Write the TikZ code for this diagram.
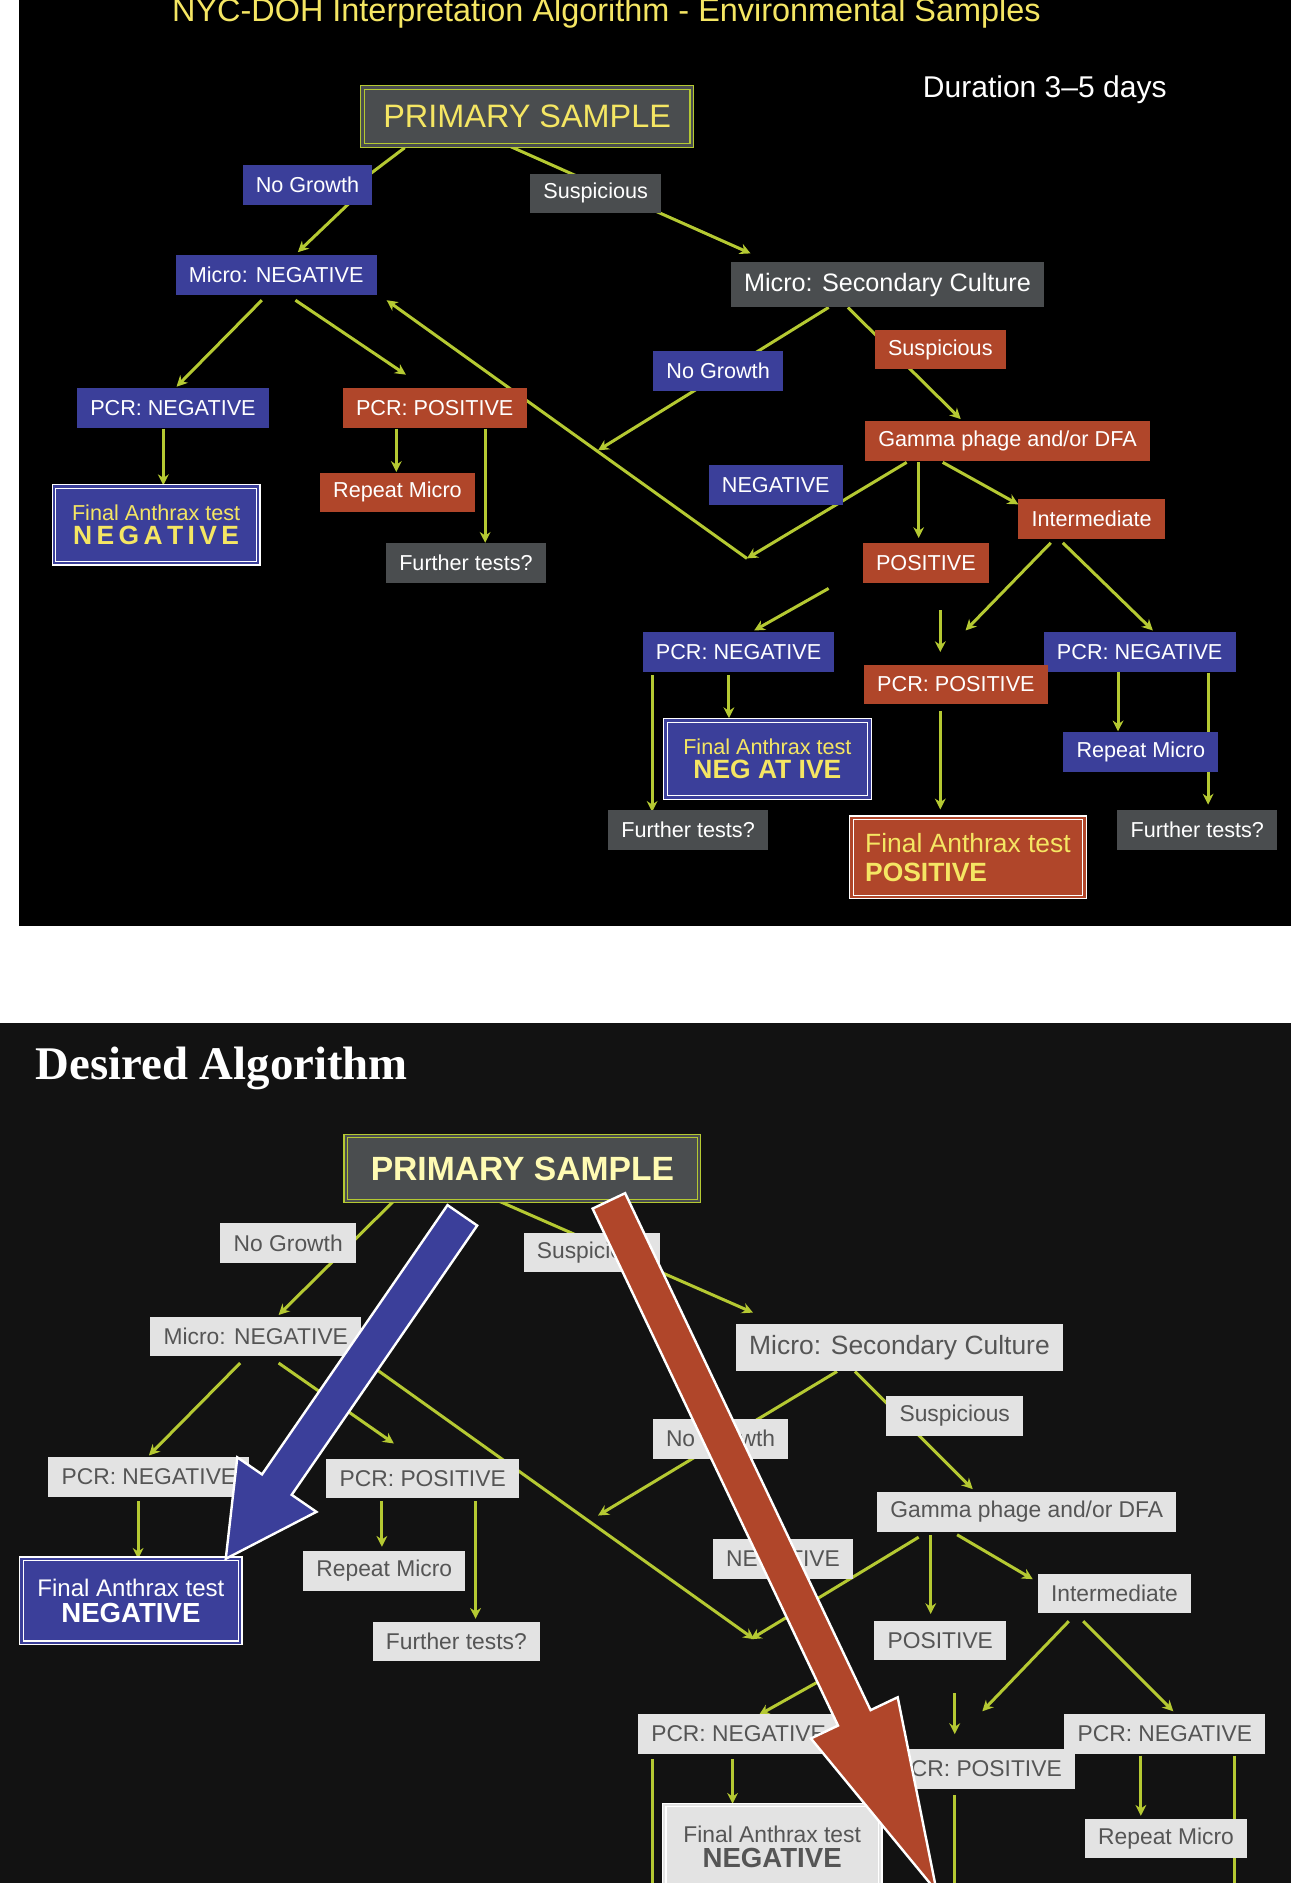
\documentclass[tikz,border=0pt]{standalone}
\usepackage{fontspec}
\setmainfont{Liberation Sans}
\newfontfamily\serifbf{Liberation Serif}
\usetikzlibrary{arrows.meta,calc}
\definecolor{bl}{HTML}{3B3F9A}
\definecolor{orr}{HTML}{B0462A}
\definecolor{gr}{HTML}{4A4D4F}
\definecolor{yl}{HTML}{F5E663}
\definecolor{gn}{HTML}{B5C932}
\definecolor{lg}{HTML}{E3E3E3}
\definecolor{tg}{HTML}{555555}
\begin{document}
\begin{tikzpicture}[x=1pt,y=-1pt,
 lab/.style={inner xsep=11pt,minimum height=33pt,font=\fontsize{18}{21}\selectfont,text=white},
 B/.style={lab,fill=bl}, O/.style={lab,fill=orr}, G/.style={lab,fill=gr},
 L/.style={lab,fill=lg,text=tg,font=\fontsize{19}{22}\selectfont},
 ar/.style={draw=gn,line width=2.5pt,-{Stealth[length=9pt,width=9pt]}},
 ln/.style={draw=gn,line width=2.5pt}]
\useasboundingbox (0,0) rectangle (1075,1568);
\fill[white] (0,0) rectangle (1075,1568);
\fill[black] (16,0) rectangle (1075,771);
\fill[black!93] (0,852) rectangle (1075,1568);
% ---------- TOP ----------
\node[text=yl,font=\fontsize{27}{31}\selectfont] (title) at (505,11) {NYC-DOH Interpretation Algorithm - Environmental Samples};
\node[text=white,font=\fontsize{25}{29}\selectfont] (dur) at (870,75) {Duration 3–5 days};
\draw[ln] (337,123) -- (308,145);
\draw[ar] (290,170) -- (248,210);
\draw[ar] (425,122) -- (625,211);
\draw[ar] (218,250) -- (147,322);
\draw[ar] (246,250) -- (338,312);
\draw[ar] (622,465) -- (322,250);
\draw[ar] (755,385) -- (622,465);
\draw[ar] (690,256) -- (498,375);
\draw[ar] (706,256) -- (800,349);
\draw[ar] (136,357) -- (136,404);
\draw[ar] (330,357) -- (330,393);
\draw[ar] (404,357) -- (404,452);
\draw[ar] (765,385) -- (765,448);
\draw[ar] (785,385) -- (848,420);
\draw[ar] (690,490) -- (628,525);
\draw[ar] (783,508) -- (783,543);
\draw[ar] (875,452) -- (804,525);
\draw[ar] (885,452) -- (960,525);
\draw[ar] (607,562) -- (607,598);
\draw[ar] (543,562) -- (543,676);
\draw[ar] (783,592) -- (783,674);
\draw[ar] (931,558) -- (931,609);
\draw[ar] (1006,560) -- (1006,670);
\node[G,draw=gn,double=gr,double distance=2pt,line width=1pt,text=yl,font=\fontsize{27}{31}\selectfont,minimum width=274pt,minimum height=48pt] (ps) at (439,97) {PRIMARY SAMPLE};
\node[B] (ng1) at (256,154) {No Growth};
\node[G] (su1) at (496,161) {Suspicious};
\node[B] (mn) at (230,229) {Micro: NEGATIVE};
\node[G,font=\fontsize{21}{25}\selectfont,minimum height=37pt] (msc) at (739,237) {Micro: Secondary Culture};
\node[B] (ng2) at (598,309) {No Growth};
\node[O] (su2) at (783,291) {Suspicious};
\node[B] (pn1) at (144,340) {PCR: NEGATIVE};
\node[O] (pp1) at (362,340) {PCR: POSITIVE};
\node[O] (gam) at (839,367) {Gamma phage and/or DFA};
\node[O] (rm1) at (331,410) {Repeat Micro};
\node[B] (neg) at (646,404) {NEGATIVE};
\node[O] (int) at (909,432) {Intermediate};
\node[B,draw=white,double=bl,double distance=2pt,line width=1pt,text=yl,align=center,minimum width=170pt,minimum height=64pt] (fn1) at (130,437) {Final Anthrax test\\[-1pt]{\fontsize{22}{25}\selectfont\bfseries N\,E\,G\,A\,T\,I\,V\,E}};
\node[G] (ft1) at (388,469) {Further tests?};
\node[O] (pos) at (771,469) {POSITIVE};
\node[B] (pn2) at (615,543) {PCR: NEGATIVE};
\node[B] (pn3) at (949,543) {PCR: NEGATIVE};
\node[O] (pp2) at (796,570) {PCR: POSITIVE};
\node[B,draw=white,double=bl,double distance=2pt,line width=1pt,text=yl,align=center,minimum width=170pt,minimum height=64pt] (fn2) at (639,632) {Final Anthrax test\\[-1pt]{\fontsize{22}{25}\selectfont\bfseries NEG AT IVE}};
\node[B] (rm2) at (950,626) {Repeat Micro};
\node[G] (ft2) at (573,691) {Further tests?};
\node[O,draw=white,double=orr,double distance=2pt,line width=1pt,text=yl,align=left,minimum width=194pt,minimum height=66pt,font=\fontsize{22}{25}\selectfont] (fp) at (806,714) {Final Anthrax test\\[-1pt]\bfseries POSITIVE};
\node[G] (ft3) at (997,691) {Further tests?};
% ---------- BOTTOM ----------
\node[text=white,font=\fontsize{39}{43}\serifbf\bfseries,anchor=west] (dt) at (26,890) {Desired Algorithm};
\draw[ar] (327,1001) -- (232,1095);
\draw[ar] (415,1000) -- (627,1093);
\draw[ar] (200,1135) -- (124,1212);
\draw[ar] (232,1135) -- (328,1202);
\draw[ar] (313,1140) -- (628,1365);
\draw[ar] (765,1280) -- (625,1365);
\draw[ar] (697,1142) -- (498,1262);
\draw[ar] (712,1142) -- (810,1240);
\draw[ar] (115,1250) -- (115,1298);
\draw[ar] (318,1250) -- (318,1288);
\draw[ar] (396,1250) -- (396,1348);
\draw[ar] (775,1278) -- (775,1344);
\draw[ar] (797,1278) -- (860,1315);
\draw[ar] (682,1400) -- (632,1428);
\draw[ar] (795,1410) -- (795,1444);
\draw[ar] (890,1350) -- (818,1425);
\draw[ar] (902,1350) -- (977,1425);
\draw[ar] (610,1465) -- (610,1502);
\draw[ln] (543,1465) -- (543,1568);
\draw[ln] (795,1495) -- (795,1568);
\draw[ar] (950,1462) -- (950,1512);
\draw[ln] (1028,1462) -- (1028,1568);
\node[G,draw=gn,double=gr,double distance=2pt,line width=1pt,text=yellow!30,font=\fontsize{28}{32}\selectfont\bfseries,minimum width=294pt,minimum height=54pt] (ps2) at (435,973) {PRIMARY SAMPLE};
\node[L] (b1) at (240,1035) {No Growth};
\node[L] (b2) at (493,1043) {Suspicious};
\node[L] (b3) at (213,1113) {Micro: NEGATIVE};
\node[L,font=\fontsize{22}{26}\selectfont,minimum height=39pt] (b4) at (749,1122) {Micro: Secondary Culture};
\node[L] (b5) at (124,1230) {PCR: NEGATIVE};
\node[L] (b6) at (352,1231) {PCR: POSITIVE};
\node[L] (b7) at (600,1198) {No Growth};
\node[L] (b8) at (795,1179) {Suspicious};
\node[L] (b9) at (855,1259) {Gamma phage and/or DFA};
\node[B,draw=white,double=bl,double distance=2pt,line width=1pt,align=center,minimum width=182pt,minimum height=70pt,font=\fontsize{20}{23}\selectfont] (b10) at (109,1333) {Final Anthrax test\\[-1pt]{\fontsize{23}{26}\selectfont\bfseries NEGATIVE}};
\node[L] (b11) at (320,1308) {Repeat Micro};
\node[L] (b12) at (652,1298) {NEGATIVE};
\node[L] (b13) at (928,1327) {Intermediate};
\node[L] (b14) at (380,1367) {Further tests?};
\node[L] (b15) at (783,1366) {POSITIVE};
\node[L] (b16) at (615,1444) {PCR: NEGATIVE};
\node[L] (b17) at (970,1444) {PCR: NEGATIVE};
\node[L] (b18) at (815,1473) {PCR: POSITIVE};
\node[L,draw=white,double=lg,double distance=2pt,line width=1pt,align=center,minimum width=180pt,minimum height=70pt] (b19) at (643,1538) {Final Anthrax test\\[-1pt]{\fontsize{23}{26}\selectfont\bfseries NEGATIVE}};
\node[L] (b20) at (971,1531) {Repeat Micro};
% big arrows
\begin{scope}
\clip (0,852) rectangle (1075,1568);
\coordinate (A1) at (385,1012); \coordinate (B1) at (188,1298);
\coordinate (P1) at ($(B1)!75pt!(A1)$);
\filldraw[fill=bl,draw=white,line width=2pt,line join=miter]
 ($(A1)!15pt!90:(B1)$) -- ($(P1)!15pt!-90:(A1)$) -- ($(P1)!40pt!-90:(A1)$) -- (B1)
 -- ($(P1)!40pt!90:(A1)$) -- ($(P1)!15pt!90:(A1)$) -- ($(A1)!15pt!-90:(B1)$) -- cycle;
\coordinate (A2) at (507,1000); \coordinate (B2) at (780,1575);
\coordinate (P2) at ($(B2)!160pt!(A2)$);
\filldraw[fill=orr,draw=white,line width=2pt,line join=miter]
 ($(A2)!15pt!90:(B2)$) -- ($(P2)!15pt!-90:(A2)$) -- ($(P2)!40pt!-90:(A2)$) -- (B2)
 -- ($(P2)!40pt!90:(A2)$) -- ($(P2)!15pt!90:(A2)$) -- ($(A2)!15pt!-90:(B2)$) -- cycle;
\end{scope}
\end{tikzpicture}
\end{document}
